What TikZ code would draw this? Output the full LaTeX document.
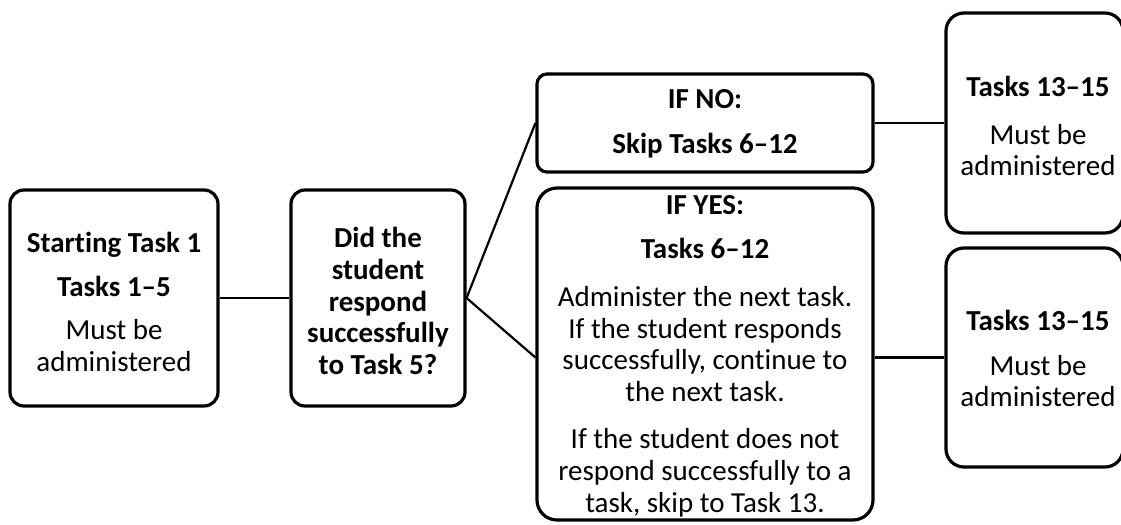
\documentclass[tikz,border=0pt]{standalone}
\usepackage{fontspec}
\setmainfont{Carlito}[Ligatures=NoCommon]
\usepackage{tikz}

\begin{document}
\begin{tikzpicture}[x=0.5pt,y=-0.5pt,
  box/.style={draw,line width=1.6pt,inner sep=0pt},
  txt/.style={align=center,inner sep=0pt,font=\fontsize{14.5}{15.8}\selectfont},
  link/.style={line width=1.1pt}]
  \useasboundingbox (0,0) rectangle (1121,525);
  \node[box,rounded corners=7pt,minimum width=104pt,minimum height=108pt] (start) at (114,298) {};
  \node[box,rounded corners=7pt,minimum width=87pt,minimum height=108pt] (question) at (378,298) {};
  \node[box,rounded corners=5pt,minimum width=168pt,minimum height=49pt] (ifno) at (705,123) {};
  \node[box,rounded corners=10pt,minimum width=168pt,minimum height=166pt] (ifyes) at (705,354) {};
  \node[box,rounded corners=9pt,minimum width=88.5pt,minimum height=110pt] (lateno) at (1034.5,123) {};
  \node[box,rounded corners=9pt,minimum width=88.5pt,minimum height=109.5pt] (lateyes) at (1034.5,357.5) {};
  \node[txt] (startText) at (114,302) {\textbf{Starting Task 1}\\[6pt]\textbf{Tasks 1--5}\\[6pt]Must be\\administered};
  \node[txt,font=\fontsize{14.5}{15.8}\selectfont\bfseries] (questionText) at (378,301)
    {Did the\\student\\respond\\successfully\\to Task 5?};
  \node[txt] (ifnoText) at (705,124) {\textbf{IF NO:}\\[6.5pt]\textbf{Skip Tasks 6--12}};
  \node[txt] (ifyesText) at (705,356) {\textbf{IF YES:}\\[6.5pt]\textbf{Tasks 6--12}\\[8pt]%
    Administer the next task.\\If the student responds\\successfully, continue to\\the next task.\\[8pt]%
    If the student does not\\respond successfully to a\\task, skip to Task 13.};
  \node[txt] (latenoText) at (1038,126) {\textbf{Tasks 13--15}\\[8pt]Must be\\administered};
  \node[txt] (lateyesText) at (1038,358.5) {\textbf{Tasks 13--15}\\[6.5pt]Must be\\administered};
  \draw[link] (start) -- (question);
  \draw[link] (question.east) -- (ifno.west);
  \draw[link] (question.east) -- (ifyes.west |- lateyes.west);
  \draw[link] (ifno.east) -- (lateno.west);
  \draw[link] (ifyes.east |- lateyes.west) -- (lateyes.west);
\end{tikzpicture}
\end{document}
